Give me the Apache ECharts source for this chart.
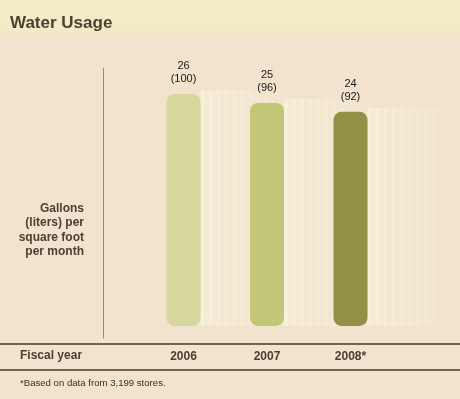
<!DOCTYPE html>
<html>
<head>
<meta charset="utf-8">
<script src="https://cdn.jsdelivr.net/npm/echarts@6/dist/echarts.min.js"></script>
<style>
  html, body { margin: 0; padding: 0; background: #f2e3cf; }
  #chart { width: 460px; height: 399px; }
</style>
</head>
<body>
<div id="chart"></div>
<script>
// data
var years = ["2006", "2007", "2008*"];
var gallons = [26, 25, 24];
var liters = [100, 96, 92];
var barColors = ["#d6d69d", "#c3c676", "#929044"];

var textDark = "#4b4130";
var font = "Arial, 'Liberation Sans', sans-serif";

var chart = echarts.init(document.getElementById("chart"));

// faded striped "shadow" trailing to the right of each bar
function renderShadow(params, api) {
  var top = api.coord([api.value(0), api.value(1)]);
  var base = api.coord([api.value(0), 0]);
  var x0 = top[0] + 17;
  var n = 24, w = 4;
  var kids = [];
  for (var i = 0; i < n; i++) {
    var a = 0.7 * (1 - i / n) * (i % 2 ? 0.55 : 1);
    kids.push({
      type: "rect",
      shape: { x: x0 + i * w, y: top[1] - 4, width: w, height: base[1] - top[1] + 4 },
      style: { fill: "rgba(250,246,222," + a.toFixed(3) + ")" }
    });
  }
  return { type: "group", children: kids };
}

chart.setOption({
  backgroundColor: "#f2e3cf",
  animation: false,
  title: {
    text: "Water Usage",
    left: 5,
    top: 10,
    textStyle: { fontFamily: font, fontSize: 17, fontWeight: "bold", color: textDark }
  },
  graphic: [
    {
      type: "rect", z: -10, left: 0, top: 0,
      shape: { width: 460, height: 42 },
      style: {
        fill: new echarts.graphic.LinearGradient(0, 0, 0, 1, [
          { offset: 0, color: "#f3ecc5" },
          { offset: 0.6, color: "#f3ebc6" },
          { offset: 1, color: "#f2e3cf" }
        ])
      }
    },
    { type: "line", shape: { x1: 0, y1: 344, x2: 460, y2: 344 }, style: { stroke: "#4a3826", lineWidth: 1.5 } },
    { type: "line", shape: { x1: 0, y1: 370, x2: 460, y2: 370 }, style: { stroke: "#4a3826", lineWidth: 1.5 } },
    {
      type: "text", left: 20, top: 350,
      style: { text: "Fiscal year", font: "bold 12px " + font, fill: textDark }
    },
    {
      type: "text", x: 84, y: 201,
      style: {
        text: "Gallons\n(liters) per\nsquare foot\nper month",
        font: "bold 12px " + font, fill: textDark, align: "right", lineHeight: 14.5
      }
    },
    {
      type: "text", left: 20, top: 378,
      style: { text: "*Based on data from 3,199 stores.", font: "9.6px " + font, fill: "#3a3020" }
    }
  ],
  grid: { left: 141.75, right: 67.75, top: 68, bottom: 61 },
  xAxis: {
    type: "category",
    data: years,
    axisLine: { show: false },
    axisTick: { show: false },
    axisLabel: { margin: 13, color: textDark, fontFamily: font, fontSize: 12, fontWeight: "bold" }
  },
  yAxis: {
    type: "value",
    min: -1.35,
    max: 28.91,
    offset: 39,
    axisLine: { show: true, lineStyle: { color: "#9a8a70", width: 1 } },
    axisTick: { show: false },
    axisLabel: { show: false },
    splitLine: { show: false }
  },
  series: [
    {
      type: "custom",
      z: 1,
      clip: false,
      renderItem: renderShadow,
      encode: { x: 0, y: 1 },
      data: gallons.map(function (v, i) { return [i, v]; })
    },
    {
      type: "bar",
      z: 2,
      barWidth: 34,
      data: gallons.map(function (v, i) {
        return { value: v, itemStyle: { color: barColors[i], borderRadius: 8 } };
      }),
      label: {
        show: true,
        position: "top",
        distance: 8,
        color: "#1a1a1a",
        fontFamily: font,
        fontSize: 11,
        lineHeight: 13,
        formatter: function (p) {
          return gallons[p.dataIndex] + "\n(" + liters[p.dataIndex] + ")";
        }
      }
    }
  ]
});
</script>
</body>
</html>
